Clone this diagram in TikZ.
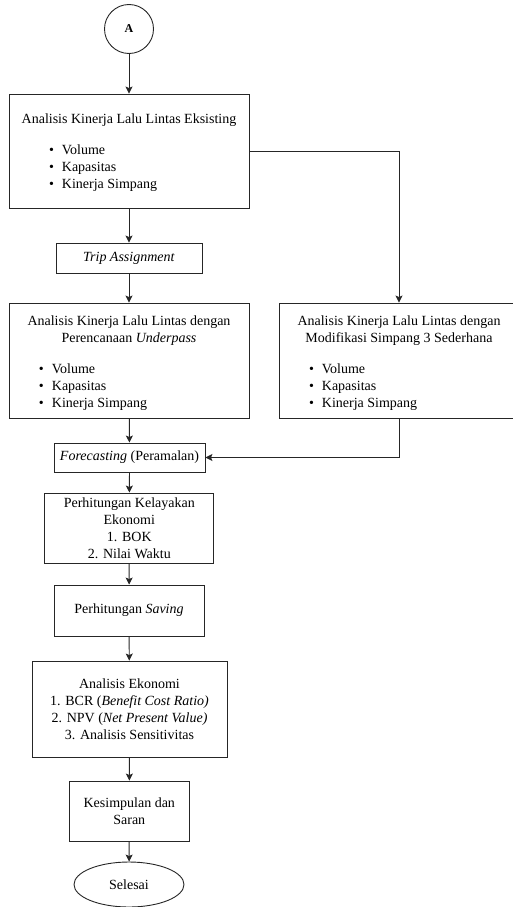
\documentclass[tikz,border=0pt]{standalone}
\usepackage{fontspec}
\setmainfont{Liberation Serif}
\usetikzlibrary{arrows.meta}
\usetikzlibrary{shapes.geometric}

\newcommand{\kinerjaitems}[1]{\par\vspace{14pt}\raggedright\hspace*{#1}%
  \begin{tabular}[t]{@{}l@{}}
    \textbullet\hspace{8pt}Volume\\
    \textbullet\hspace{8pt}Kapasitas\\
    \textbullet\hspace{8pt}Kinerja Simpang
  \end{tabular}}

\tikzset{
  box/.style={draw=black!85, line width=0.9pt, rectangle, align=center, inner sep=0pt},
  flow/.style={draw=black!85, line width=0.9pt, -{Stealth[length=7pt,width=7pt,inset=1.5pt]}},
  line/.style={draw=black!85, line width=0.9pt}
}

\begin{document}
\begin{tikzpicture}[x=1pt, y=-1pt, font=\fontsize{14}{17}\selectfont]
      \useasboundingbox (0,0) rectangle (512,907);

      % start connector
      \node[circle, draw=black!85, line width=0.9pt, minimum size=49pt, inner sep=0pt,
            font=\fontsize{12}{14}\selectfont\bfseries] (A) at (129,29) {A};

      % existing condition
      \node[box, minimum width=240pt, minimum height=114pt] (eks) at (129,151)
        {\parbox{240pt}{\vspace*{6pt}\centering Analisis Kinerja Lalu Lintas Eksisting\kinerjaitems{40pt}}};

      \node[box, minimum width=146pt, minimum height=30pt] (trip) at (129,258)
        {\textit{Trip Assignment}};

      % two alternatives
      \node[box, minimum width=240pt, minimum height=115pt] (under) at (129,360.5)
        {\parbox{240pt}{\vspace*{7pt}\centering Analisis Kinerja Lalu Lintas dengan\\
         Perencanaan \textit{Underpass}\kinerjaitems{30pt}}};

      \node[box, minimum width=240pt, minimum height=115pt] (modif) at (399,360.5)
        {\parbox{240pt}{\vspace*{7pt}\centering Analisis Kinerja Lalu Lintas dengan\\
         Modifikasi Simpang 3 Sederhana\kinerjaitems{30pt}}};

      % economic part
      \node[box, minimum width=151pt, minimum height=29pt] (fore) at (129.5,457.5)
        {\textit{Forecasting} (Peramalan)};

      \node[box, minimum width=169pt, minimum height=70pt] (layak) at (129.3,528)
        {Perhitungan Kelayakan\\Ekonomi\\1. BOK\\2. Nilai Waktu};

      \node[box, minimum width=150pt, minimum height=51pt] (saving) at (129,610.5)
        {Perhitungan \textit{Saving}};

      \node[box, minimum width=195pt, minimum height=96pt] (ekon) at (129.5,709)
        {Analisis Ekonomi\\1. BCR (\textit{Benefit Cost Ratio)}\\
         2. NPV (\textit{Net Present Value)}\\3. Analisis Sensitivitas};

      \node[box, minimum width=120pt, minimum height=60pt] (simpul) at (129.3,811)
        {Kesimpulan dan\\Saran};

      \node[ellipse, draw=black!85, line width=0.9pt, minimum width=110pt,
            minimum height=45pt, inner sep=0pt] (selesai) at (129,884.5) {Selesai};

      % connections
      \draw[flow] (A) -- (eks);
      \draw[flow] (eks) -- (trip);
      \draw[flow] (trip) -- (under);
      \draw[flow] (eks.east) -| (modif.north);
      \draw[flow] (under) -- (fore);
      \draw[flow] (modif.south) |- (fore.east);
      \draw[flow] (fore) -- (layak);
      \draw[flow] (layak) -- (saving);
      \draw[flow] (saving) -- (ekon);
      \draw[flow] (ekon) -- (simpul);
      \draw[flow] (simpul) -- (selesai);
    \end{tikzpicture}
\end{document}
